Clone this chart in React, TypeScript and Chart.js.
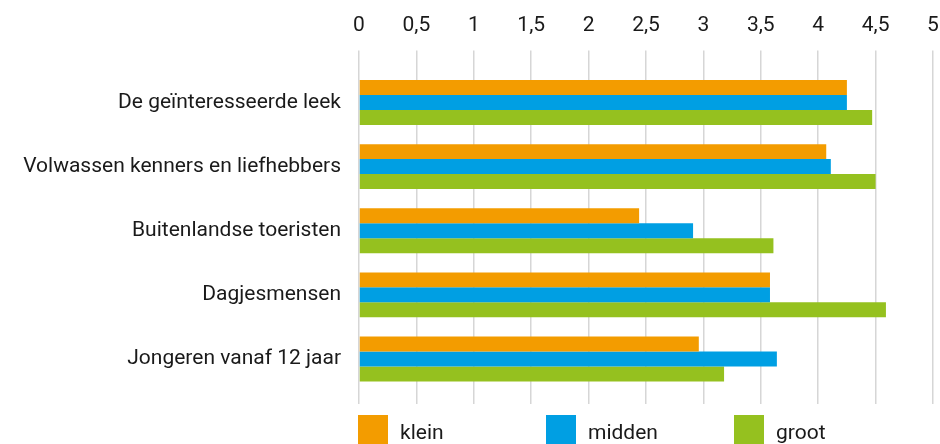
import React, { useEffect, useRef } from "react";
import { Chart, registerables } from "chart.js";

Chart.register(...registerables);

const categories = [
  "De geïnteresseerde leek",
  "Volwassen kenners en liefhebbers",
  "Buitenlandse toeristen",
  "Dagjesmensen",
  "Jongeren vanaf 12 jaar",
];
const seriesNames = ["klein", "midden", "groot"];
const klein = [4.25, 4.07, 2.44, 3.58, 2.96];
const midden = [4.25, 4.11, 2.91, 3.58, 3.64];
const groot = [4.47, 4.5, 3.61, 4.59, 3.18];
const colors = ["#F39C00", "#009FE3", "#95C11F"];
const xMin = 0;
const xMax = 5;
const xStep = 0.5;

const FONT = "Roboto, 'DejaVu Sans', sans-serif";

export default function App() {
  const ref = useRef<HTMLCanvasElement | null>(null);

  useEffect(() => {
    if (!ref.current) return;
    const values = [klein, midden, groot];
    const chart = new Chart(ref.current, {
      type: "bar",
      data: {
        labels: categories,
        datasets: seriesNames.map((name, i) => ({
          label: name,
          data: values[i],
          backgroundColor: colors[i],
          borderWidth: 0,
          barPercentage: 1,
          categoryPercentage: 0.7,
          xAxisID: "x",
        })),
      },
      options: {
        indexAxis: "y",
        animation: false,
        responsive: false,
        maintainAspectRatio: false,
        layout: { padding: { top: 12.4, right: 7, bottom: 40, left: 0 } },
        plugins: {
          legend: { display: false },
          tooltip: { enabled: false },
        },
        scales: {
          x: {
            type: "linear",
            position: "top",
            min: xMin,
            max: xMax,
            border: { display: false },
            grid: {
              color: "#d6d6d6",
              lineWidth: 1.5,
              drawTicks: true,
              tickLength: 20,
            },
            ticks: {
              stepSize: xStep,
              padding: 12,
              color: "#1a1a1a",
              font: { family: FONT, size: 21 },
              callback: (v: any) => String(v).replace(".", ","),
            },
            afterFit: (scale: any) => {
              scale.height = 58;
              scale.paddingLeft = 0;
              scale.paddingRight = 0;
            },
          },
          x2: {
            type: "linear",
            position: "bottom",
            min: xMin,
            max: xMax,
            border: { display: false },
            grid: {
              color: "#d6d6d6",
              lineWidth: 1.5,
              drawOnChartArea: false,
              drawTicks: true,
              tickLength: 13,
            },
            ticks: { stepSize: xStep, display: false },
            afterFit: (scale: any) => {
              scale.height = 13;
              scale.paddingLeft = 0;
              scale.paddingRight = 0;
            },
          },
          y: {
            type: "category",
            border: { display: false },
            grid: { display: false, drawTicks: false },
            ticks: {
              padding: 18,
              color: "#1a1a1a",
              font: { family: FONT, size: 21 },
            },
            afterFit: (scale: any) => {
              scale.width = 359;
              scale.paddingTop = 0;
              scale.paddingBottom = 0;
            },
          },
        },
      },
    });
    return () => chart.destroy();
  }, []);

  return (
    <div
      style={{
        position: "absolute",
        left: 0,
        top: 0,
        width: 940,
        height: 444,
        overflow: "hidden",
        background: "#fff",
        fontFamily: FONT,
      }}
    >
      <canvas ref={ref} width={940} height={444} style={{ display: "block" }} />
      <div
        style={{
          position: "absolute",
          left: 358,
          top: 415,
          display: "flex",
        }}
      >
        {seriesNames.map((name, i) => (
          <div
            key={name}
            style={{ width: 188, display: "flex", alignItems: "flex-start" }}
          >
            <div
              style={{
                width: 30,
                height: 30,
                background: colors[i],
                marginRight: 12,
                flex: "none",
              }}
            />
            <div
              style={{
                fontSize: 21,
                lineHeight: "30px",
                paddingTop: 2,
                color: "#1a1a1a",
              }}
            >
              {name}
            </div>
          </div>
        ))}
      </div>
    </div>
  );
}
